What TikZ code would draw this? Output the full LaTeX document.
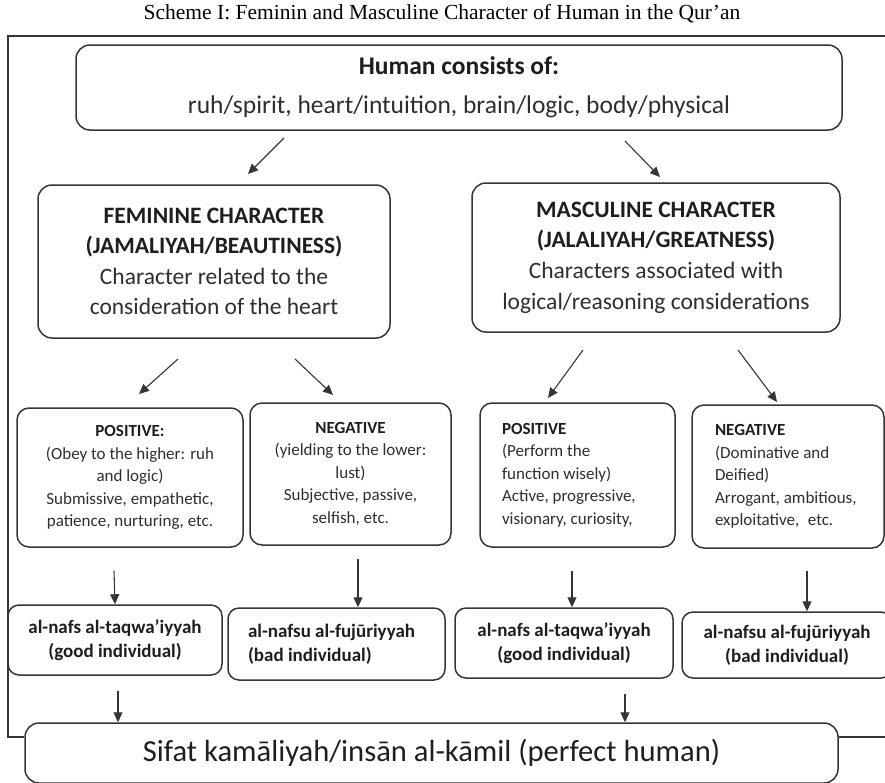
\documentclass[tikz,border=0pt]{standalone}
\usepackage{fontspec}
\setmainfont{Carlito}
\newfontfamily\timesf{Liberation Serif}
\usetikzlibrary{arrows.meta}
\definecolor{ln}{HTML}{353535}
\definecolor{tx}{HTML}{1E1E1E}
\definecolor{tr}{HTML}{2E2E2E}
\begin{document}
\begin{tikzpicture}[x=1pt,y=-1pt,
  box/.style={draw=ln, line width=1.5pt, rounded corners=14pt, text=tr, inner sep=0pt, align=center},
  sbox/.style={box, rounded corners=12pt, font=\fontsize{17}{22.5}\selectfont},
  lbox/.style={sbox, align=flush left},
  nbox/.style={box, rounded corners=11pt, font=\bfseries\fontsize{19}{24}\selectfont, text=tx},
  arr/.style={draw=ln, line width=1.1pt, -{Triangle[length=10pt,width=9pt]}},
  frameline/.style={draw=ln, line width=1.5pt}]
\useasboundingbox (0,0) rectangle (885,782);

\node (title) at (442,14) {\timesf\fontsize{21.5}{23}\selectfont Scheme I: Feminin and Masculine Character of Human in the Qur’an};

\node[box, minimum width=766pt, minimum height=85pt, font=\fontsize{25.5}{39}\selectfont] (top) at (459,87.5)
  {{\bfseries\color{tx}\fontsize{25.5}{39}\selectfont Human consists of:}\\ruh/spirit, heart/intuition, brain/logic, body/physical};

\node[box, minimum width=352pt, minimum height=153pt, font=\fontsize{23.5}{30.3}\selectfont] (fem) at (214,261.5)
  {{\bfseries\color{tx}FEMININE CHARACTER}\\{\bfseries\color{tx}(JAMALIYAH/BEAUTINESS)}\\Character related to the\\consideration of the heart};

\node[box, minimum width=368pt, minimum height=149pt, font=\fontsize{23.5}{30.7}\selectfont] (masc) at (656,257.5)
  {{\bfseries\color{tx}MASCULINE CHARACTER}\\{\bfseries\color{tx}(JALALIYAH/GREATNESS)}\\Characters associated with\\logical/reasoning considerations};

\node[sbox, minimum width=226pt, minimum height=139pt] (p1) at (130,477.5)
  {{\bfseries\color{tx}POSITIVE:}\\(Obey to the higher: ruh\\and logic)\\Submissive, empathetic,\\patience, nurturing, etc.};
\node[sbox, minimum width=201pt, minimum height=142pt] (n1) at (350.5,474)
  {{\bfseries\color{tx}NEGATIVE}\\(yielding to the lower:\\lust)\\Subjective, passive,\\selfish, etc.};
\node[lbox, minimum width=195pt, minimum height=144pt, text width=151pt] (p2) at (577.5,475)
  {{\bfseries\color{tx}POSITIVE}\\(Perform the\\function wisely)\\Active, progressive,\\visionary, curiosity,};
\node[lbox, minimum width=192pt, minimum height=143pt, text width=146pt] (n2) at (788,476.5)
  {{\bfseries\color{tx}NEGATIVE}\\(Dominative and\\Deified)\\Arrogant, ambitious,\\exploitative,\hspace{0.5em}etc.};

\node[nbox, minimum width=214pt, minimum height=70pt] (b1) at (115,640)
  {al-nafs al-taqwa’iyyah\\(good individual)};
\node[nbox, minimum width=217pt, minimum height=72pt, align=flush left, text width=177pt] (b2) at (336.5,644)
  {al-nafsu al-fujūriyyah\\(bad individual)};
\node[nbox, minimum width=218pt, minimum height=70pt] (b3) at (564,643)
  {al-nafs al-taqwa’iyyah\\(good individual)};
\node[nbox, minimum width=210pt, minimum height=66pt] (b4) at (787,645)
  {al-nafsu al-fujūriyyah\\(bad individual)};

\node[box, minimum width=813pt, minimum height=60pt, text=tx, font=\fontsize{30.6}{34}\selectfont] (big) at (431.5,753)
  {Sifat kamāliyah/insān al-kāmil (perfect human)};

% frame
\coordinate (f1) at (885,36);
\coordinate (f2) at (8,36);
\coordinate (f3) at (8,737);
\coordinate (f4) at (885,737);
\draw[frameline] (f1) -- (f2) -- (f3) -- (f3 -| big.west);
\draw[frameline] (f4 -| big.east) -- (f4);

% arrows
\coordinate (a1s) at (284,138); \coordinate (a1e) at (248,174);
\coordinate (a2s) at (625,141); \coordinate (a2e) at (660,177);
\draw[arr] (a1s) -- (a1e);
\draw[arr] (a2s) -- (a2e);

\coordinate (a3s) at (178,359); \coordinate (a3e) at (139,394);
\coordinate (a4s) at (295,359); \coordinate (a4e) at (333,395);
\coordinate (a5s) at (583,350); \coordinate (a5e) at (548,398);
\coordinate (a6s) at (738,350); \coordinate (a6e) at (777,402);
\draw[arr] (a3s) -- (a3e);
\draw[arr] (a4s) -- (a4e);
\draw[arr] (a5s) -- (a5e);
\draw[arr] (a6s) -- (a6e);

\draw[arr] (p1.south -| 114,0) ++(0,23) -- (b1.north -| 115,0);
\draw[arr] (n1.south -| 358,0) ++(0,13) -- (b2.north -| 358,0);
\draw[arr] (p2.south -| 572,0) ++(0,23) -- (b3.north -| 572,0);
\draw[arr] (n2.south -| 807,0) ++(0,22) -- (b4.north -| 807,0);

\draw[arr] (b1.south -| 118,0) ++(0,15) -- (big.north -| 118,0);
\draw[arr] (b3.south -| 625,0) ++(0,15) -- (big.north -| 625,0);
\end{tikzpicture}
\end{document}
